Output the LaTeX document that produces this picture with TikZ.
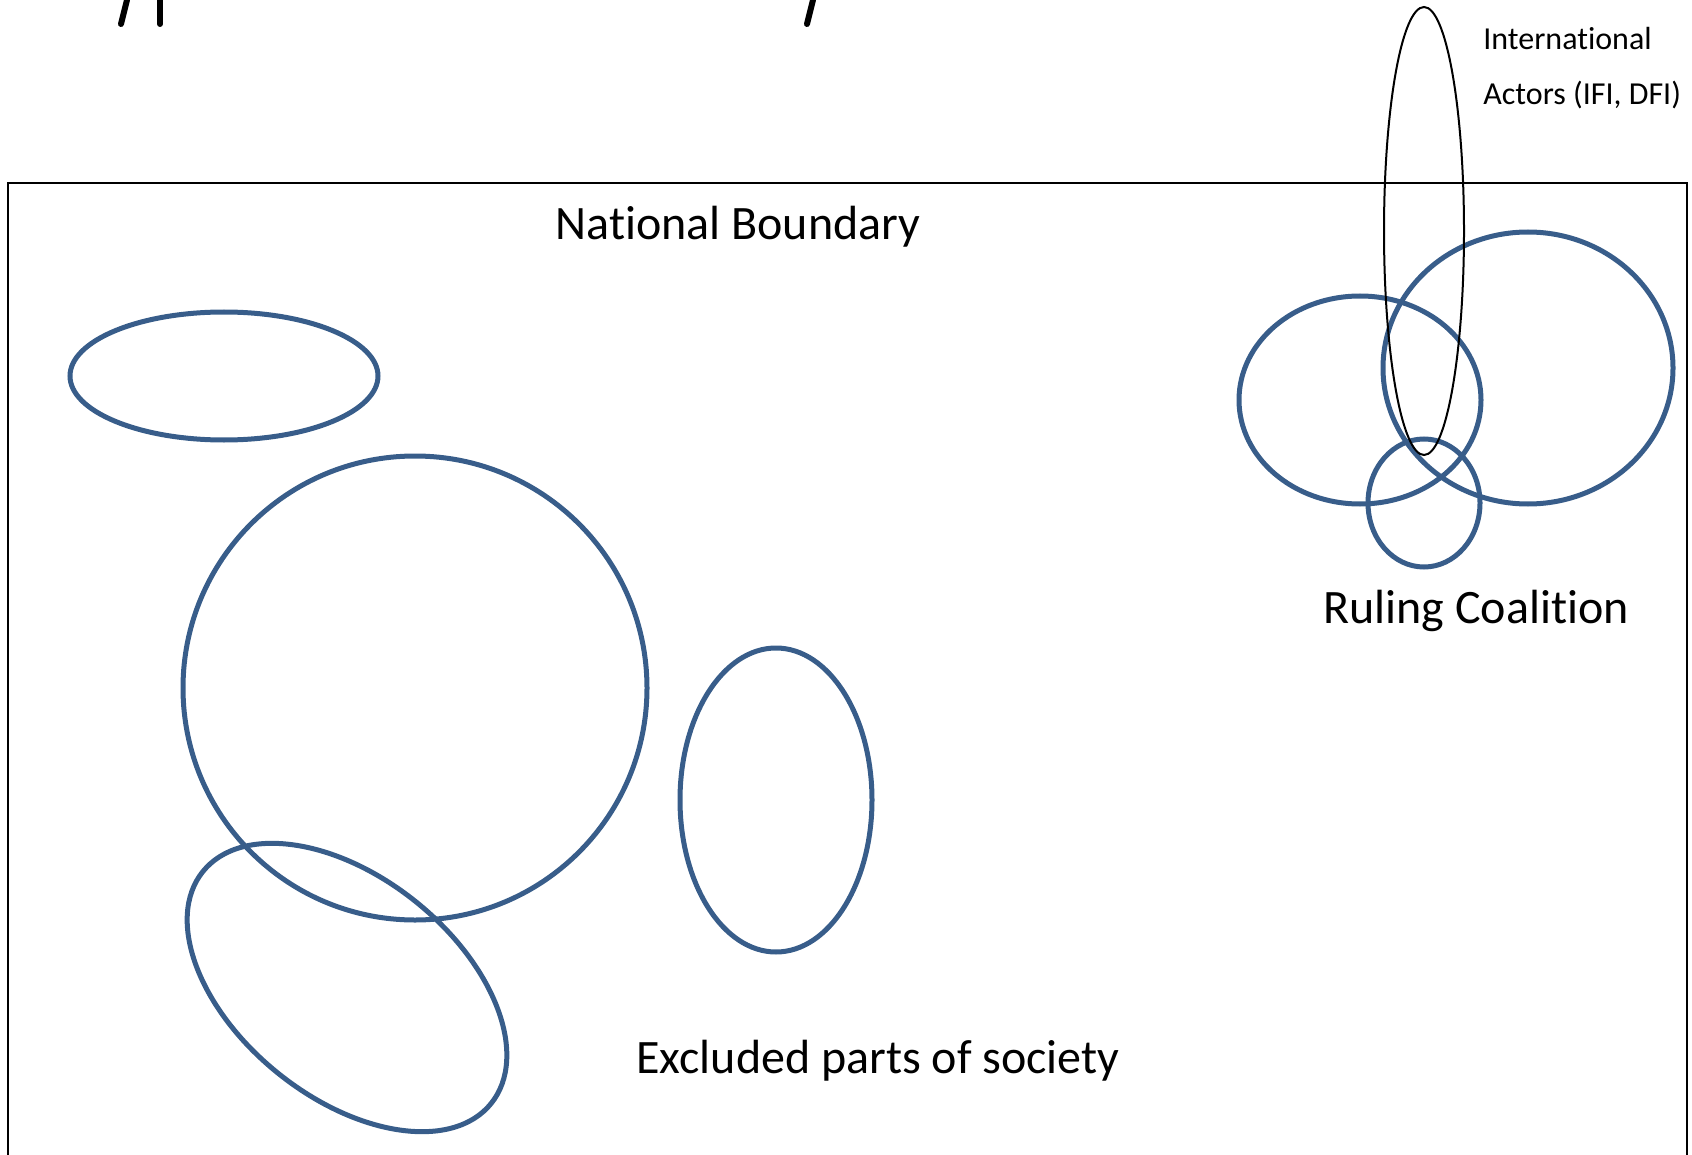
\documentclass[tikz,border=0pt]{standalone}
\usepackage{fontspec}
\setmainfont[RawFeature={-liga;-clig;-calt;-dlig}]{Carlito}
\usepackage{tikz}
\usetikzlibrary{shapes.geometric}
\usetikzlibrary{positioning}
\definecolor{myblue}{HTML}{385D8A}
\tikzset{
  myellipse/.style={
    draw=myblue,
    shape=ellipse,
    line width=2.5pt,
    inner sep=0pt,
  },
  mythin/.style={
    draw=black,
    shape=ellipse,
    line width=1pt,
    inner sep=0pt,
  },
  mylabel/.style={
    anchor=base,
    inner sep=0pt,
    font=\fontsize{24}{29}\selectfont
  },
  mysmall/.style={
    anchor=base west,
    inner sep=0pt,
    font=\fontsize{16}{19}\selectfont
  }
}

\begin{document}
\begin{tikzpicture}[x=0.5pt, y=-0.5pt]
    \useasboundingbox (0,0) rectangle (1692,1155);

    % Cut-off title strokes
    \draw [line width=3pt, line cap=round] (121,24) -- (127,0);
    \draw [line width=3pt, line cap=round] (160,24) -- (160,0);
    \draw [line width=3pt, line cap=round] (807,24) -- (813,0);

    % National boundary
    \draw [line width=1.2pt] (8,1160) -- (8,183) -- (1687,183) -- (1687,1160);
    \node [mylabel] (NB) at (738,240) {National Boundary};

    % Ruling coalition
    \node [myellipse, minimum width=121pt, minimum height=104pt] (RL) at (1360,400) {};
    \node [myellipse, minimum width=145pt, minimum height=136pt] (RR) at (1528,368) {};
    \node [myellipse, minimum width=56pt, minimum height=64pt] (RS) at (1424,503) {};
    \node [mylabel] (RC) at (1476,623) {Ruling Coalition};

    % International actors
    \node [mythin, minimum width=40pt, minimum height=224pt] (IA) at (1424,231) {};
    \node [mysmall] (IA1) at (1483,50) {International};
    \node [mysmall] (IA2) at (1483,105) {Actors (IFI, DFI)};

    % Excluded parts
    \node [myellipse, minimum width=154pt, minimum height=64pt] (E1) at (224,376) {};
    \node [myellipse, minimum width=232pt, minimum height=232pt] (E2) at (415,688) {};
    \node [myellipse, minimum width=185pt, minimum height=110pt, rotate=-38.8] (E3) at (347,987.5) {};
    \node [myellipse, minimum width=96pt, minimum height=152pt] (E4) at (776,800) {};
    \node [mylabel] (EX) at (878,1073) {Excluded parts of society};
  \end{tikzpicture}
\end{document}
